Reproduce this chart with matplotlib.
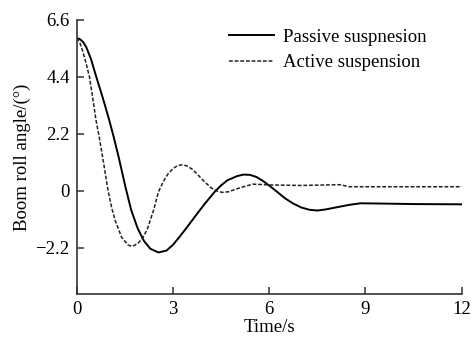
import matplotlib
matplotlib.use("Agg")
import matplotlib.pyplot as plt

plt.rcParams['font.family'] = ['Liberation Serif', 'DejaVu Serif']

t_passive = [0, 0.1, 0.2, 0.3, 0.45, 0.6, 0.8, 1.0, 1.15, 1.3, 1.52, 1.7, 1.9, 2.1, 2.3, 2.55,
             2.8, 3.0, 3.2, 3.4, 3.6, 3.8, 4.0, 4.3, 4.5, 4.7, 5.0, 5.2, 5.4, 5.6, 5.8, 6.05, 6.3,
             6.5, 6.75, 7.0, 7.25, 7.5, 7.75, 8.0, 8.5, 8.85, 9.5, 10.5, 12]
y_passive = [5.9, 5.86, 5.75, 5.55, 5.08, 4.45, 3.65, 2.8, 2.1, 1.35, 0.15, -0.75, -1.45, -1.95, -2.25, -2.39,
             -2.32, -2.1, -1.8, -1.48, -1.15, -0.82, -0.5, -0.05, 0.2, 0.4, 0.56, 0.62, 0.61, 0.53, 0.38, 0.15, -0.1,
             -0.3, -0.5, -0.65, -0.74, -0.77, -0.73, -0.67, -0.55, -0.49, -0.5, -0.52, -0.53]

t_active = [0, 0.1, 0.2, 0.3, 0.4, 0.5, 0.6, 0.7, 0.85, 0.98, 1.1, 1.2, 1.4, 1.6, 1.73, 1.9,
            2.05, 2.2, 2.4, 2.55, 2.7, 2.85, 3.0, 3.15, 3.3, 3.45, 3.6, 3.75, 3.9, 4.05, 4.2, 4.4, 4.55, 4.75, 4.9, 5.2, 5.5, 6.0,
            7.0, 8.2, 8.5, 12]
y_active = [5.9, 5.72, 5.35, 4.9, 4.4, 3.6, 2.75, 2.1, 1.0, 0.0, -0.7, -1.15, -1.8, -2.1, -2.16, -2.05,
            -1.85, -1.5, -0.75, -0.05, 0.35, 0.65, 0.85, 0.97, 1.0, 0.95, 0.83, 0.65, 0.45, 0.27, 0.1, -0.03, -0.07, -0.04, 0.03, 0.15, 0.25, 0.22,
            0.2, 0.23, 0.15, 0.15]

x_ticks = [0, 3, 6, 9, 12]
y_ticks = [-2.2, 0, 2.2, 4.4, 6.6]
y_ticklabels = ['\u22122.2', '0', '2.2', '4.4', '6.6']

fig = plt.figure(figsize=(4.73, 3.38), dpi=100)
ax = fig.add_axes([0.162, 0.130, 0.814, 0.811])

ax.plot(t_passive, y_passive, color='black', lw=1.4, label='Passive suspnesion')
ax.plot(t_active, y_active, color='#222222', lw=1.1, ls=(0, (2.5, 1.2)), label='Active suspension')

ax.set_xlim(0, 12)
ax.set_ylim(-4.0, 6.6)
ax.set_xticks(x_ticks)
ax.set_yticks(y_ticks)
ax.set_yticklabels(y_ticklabels)
for s in ['top', 'right']:
    ax.spines[s].set_visible(False)
for s in ['left', 'bottom']:
    ax.spines[s].set_linewidth(1.2)
    ax.spines[s].set_color('#333333')
ax.tick_params(direction='in', length=5, width=1.1, labelsize=13.5, color='#333333', pad=5)
ax.set_xlabel('Time/s', fontsize=13.5, labelpad=1)
ax.set_ylabel('Boom roll angle/(\u00b0)', fontsize=13.5, labelpad=3)

ax.legend(loc='upper left', bbox_to_anchor=(0.352, 1.03), frameon=False, fontsize=13.5,
          handlelength=2.4, handletextpad=0.5, labelspacing=0.45)

fig.savefig('out.png', dpi=100)
